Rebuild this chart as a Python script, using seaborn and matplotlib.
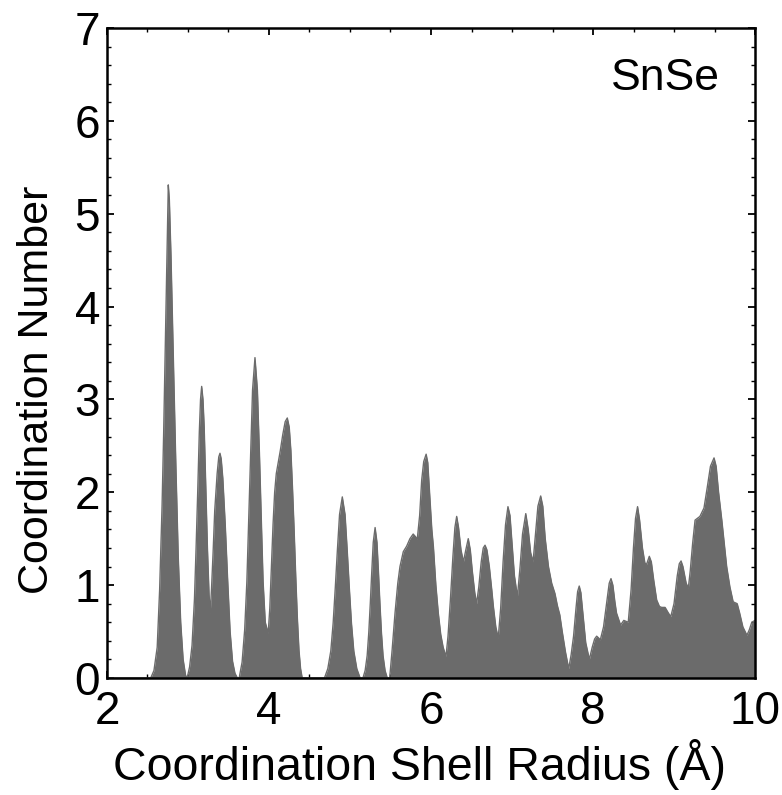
import matplotlib
matplotlib.use("Agg")
import matplotlib.pyplot as plt
import seaborn as sns
import pandas as pd
from matplotlib.ticker import MultipleLocator

sns.set_theme(style="ticks")
plt.rcParams['font.family'] = ['Liberation Sans', 'DejaVu Sans']
plt.rcParams.update({"text.color": "black", "axes.labelcolor": "black",
                     "xtick.color": "black", "ytick.color": "black"})

radius = [
    2.00, 2.54, 2.58, 2.62, 2.65, 2.68, 2.70, 2.72, 2.74, 2.757, 2.77, 2.79, 2.82, 2.85, 2.88, 2.91, 2.94, 2.97, 2.99,
    3.02, 3.05, 3.08, 3.10, 3.12, 3.14, 3.155, 3.169, 3.185, 3.20, 3.22, 3.24, 3.26, 3.275,
    3.29, 3.31, 3.33, 3.36, 3.38, 3.395, 3.41, 3.43, 3.46, 3.49, 3.52, 3.55, 3.58, 3.61,
    3.632, 3.668, 3.700, 3.727, 3.750, 3.772, 3.797, 3.827, 3.857, 3.882, 3.904, 3.927, 3.954, 3.99,
    4.01, 4.03, 4.05, 4.07, 4.09, 4.11, 4.14, 4.17, 4.20, 4.226, 4.25, 4.27, 4.29, 4.31, 4.33, 4.35, 4.37, 4.39, 4.41,
    4.685, 4.726, 4.763, 4.792, 4.819, 4.844, 4.871, 4.905, 4.939, 4.966, 4.991, 5.018, 5.047, 5.084, 5.125,
    5.16, 5.187, 5.212, 5.232, 5.251, 5.268, 5.287, 5.31, 5.333, 5.352, 5.369, 5.388, 5.408, 5.433, 5.46,
    5.49, 5.52, 5.556, 5.59, 5.617, 5.658, 5.70, 5.74, 5.78, 5.81, 5.83, 5.86, 5.885, 5.91, 5.94, 5.96, 5.985,
    6.01, 6.03, 6.06, 6.09, 6.12, 6.15, 6.185,
    6.21, 6.24, 6.27, 6.295, 6.317, 6.34, 6.37, 6.40, 6.43, 6.46, 6.485, 6.51, 6.54, 6.563, 6.59, 6.62, 6.645,
    6.667, 6.69, 6.72, 6.75, 6.77, 6.80, 6.83, 6.86, 6.89, 6.92, 6.95, 6.975, 7.00, 7.03, 7.067, 7.10, 7.13,
    7.17, 7.20, 7.23, 7.26, 7.29, 7.32, 7.354, 7.38, 7.41, 7.45, 7.49, 7.53, 7.56, 7.59, 7.62, 7.66, 7.70,
    7.73, 7.76, 7.79, 7.81, 7.83, 7.85, 7.88, 7.91, 7.955,
    7.99, 8.02, 8.045, 8.07, 8.09, 8.13, 8.17, 8.20, 8.222, 8.245, 8.27, 8.29, 8.34, 8.38, 8.435, 8.47, 8.50,
    8.525, 8.55, 8.575, 8.61, 8.64, 8.66, 8.695, 8.72, 8.75, 8.786, 8.82, 8.847, 8.89, 8.93, 8.96, 9.00, 9.04,
    9.065, 9.087, 9.11, 9.15, 9.177, 9.20, 9.23, 9.26, 9.32, 9.37, 9.41, 9.45, 9.494, 9.52, 9.55, 9.59, 9.62,
    9.65, 9.69, 9.73, 9.78, 9.81, 9.85, 9.90, 9.93, 9.96, 10.0,
]
coord_number = [
    0.00, 0.00, 0.08, 0.33, 0.95, 1.85, 2.65, 3.60, 4.60, 5.31, 5.15, 4.55, 3.40, 2.30, 1.30, 0.60, 0.20, 0.03, 0.00,
    0.12, 0.35, 0.85, 1.40, 2.00, 2.65, 3.00, 3.14, 3.00, 2.70, 2.05, 1.40, 0.90, 0.70,
    0.95, 1.35, 1.80, 2.20, 2.38, 2.42, 2.36, 2.15, 1.65, 1.05, 0.50, 0.18, 0.05, 0.00,
    0.00, 0.17, 0.52, 1.04, 1.73, 2.42, 3.10, 3.45, 3.10, 2.42, 1.73, 1.04, 0.60, 0.48,
    0.75, 1.20, 1.65, 2.00, 2.20, 2.30, 2.45, 2.62, 2.76, 2.80, 2.70, 2.45, 2.05, 1.60, 1.10, 0.65, 0.30, 0.10, 0.00,
    0.00, 0.10, 0.29, 0.59, 0.98, 1.37, 1.76, 1.95, 1.76, 1.37, 0.98, 0.59, 0.29, 0.10, 0.00,
    0.00, 0.08, 0.24, 0.49, 0.81, 1.13, 1.46, 1.62, 1.46, 1.13, 0.81, 0.49, 0.24, 0.08, 0.00,
    0.00, 0.30, 0.70, 1.02, 1.20, 1.36, 1.42, 1.50, 1.55, 1.52, 1.49, 1.75, 2.13, 2.33, 2.41, 2.32, 1.95,
    1.60, 1.41, 1.00, 0.70, 0.47, 0.33, 0.23,
    0.45, 0.85, 1.30, 1.62, 1.74, 1.62, 1.38, 1.25, 1.38, 1.50, 1.38, 1.15, 0.92, 0.80, 0.98, 1.25, 1.40,
    1.43, 1.38, 1.20, 0.95, 0.77, 0.55, 0.43, 0.75, 1.25, 1.65, 1.845, 1.75, 1.45, 1.10, 0.875, 1.20, 1.55,
    1.77, 1.60, 1.35, 1.25, 1.55, 1.85, 1.96, 1.85, 1.50, 1.20, 1.02, 0.91, 0.78, 0.68, 0.50, 0.28, 0.10,
    0.25, 0.45, 0.75, 0.93, 0.99, 0.92, 0.65, 0.38, 0.20,
    0.33, 0.42, 0.45, 0.43, 0.41, 0.55, 0.82, 1.02, 1.07, 1.00, 0.82, 0.70, 0.57, 0.62, 0.60, 0.95, 1.41,
    1.72, 1.845, 1.70, 1.40, 1.24, 1.22, 1.31, 1.25, 1.05, 0.84, 0.77, 0.76, 0.76, 0.70, 0.66, 0.80, 1.10,
    1.23, 1.26, 1.20, 1.02, 0.97, 1.15, 1.45, 1.70, 1.74, 1.83, 2.05, 2.28, 2.37, 2.28, 2.00, 1.70, 1.45,
    1.20, 0.98, 0.82, 0.80, 0.70, 0.55, 0.46, 0.52, 0.60, 0.62,
]

x_ticks = [2, 4, 6, 8, 10]
y_ticks = [0, 1, 2, 3, 4, 5, 6, 7]
label_text = "SnSe"

df = pd.DataFrame({"r": radius, "cn": coord_number})

fig = plt.figure(figsize=(7.82, 7.95), dpi=100)
ax = fig.add_axes([0.1368, 0.1472, 0.8287, 0.8176])

fill_color = "#6b6b6b"
ax.fill_between(df["r"], 0, df["cn"], color=fill_color, linewidth=0)
sns.lineplot(data=df, x="r", y="cn", ax=ax, color=fill_color, linewidth=1.0, sort=False)

ax.set_xlim(2, 10)
ax.set_ylim(0, 7)
ax.set_xticks(x_ticks)
ax.set_yticks(y_ticks)
ax.xaxis.set_minor_locator(MultipleLocator(0.5))
ax.yaxis.set_minor_locator(MultipleLocator(0.2))
ax.tick_params(which="both", direction="in", top=True, right=True, color="black")
ax.tick_params(which="major", length=5, width=1.3, labelsize=33, pad=5)
ax.tick_params(which="minor", length=3, width=1.0)
ax.tick_params(axis="x", which="major", pad=9)
for s in ax.spines.values():
    s.set_linewidth(1.8)
    s.set_color("black")

ax.set_xlabel("Coordination Shell Radius (Å)", fontsize=33.5)
ax.set_ylabel("Coordination Number", fontsize=31)
ax.xaxis.set_label_coords(0.483, -0.094)
ax.yaxis.set_label_coords(-0.077, 0.443)
ax.text(0.946, 0.923, label_text, transform=ax.transAxes, ha="right", va="center", fontsize=32)

fig.savefig("out.png", dpi=100)
